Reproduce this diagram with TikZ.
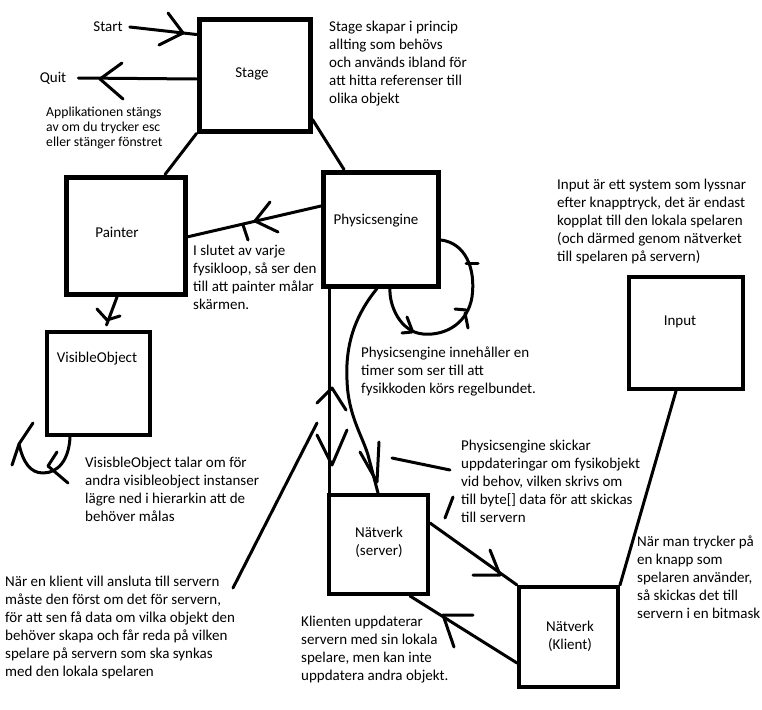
\documentclass[tikz,border=0pt]{standalone}
\usepackage{fontspec}
\setmainfont{Carlito}
\usetikzlibrary{calc}
\begin{document}
\begin{tikzpicture}[x=1pt,y=-1pt,
  box/.style={draw, rectangle, line width=4pt, inner sep=0pt},
  thickbox/.style={box, line width=5pt},
  con/.style={line width=3pt, line cap=round, line join=round},
  lbl/.style={font=\fontsize{15}{18}\selectfont, inner sep=0pt},
  txt/.style={font=\fontsize{15}{18}\selectfont, align=left, anchor=base west, inner sep=0pt},
  smalltxt/.style={font=\fontsize{13.7}{15}\selectfont, align=left, anchor=base west, inner sep=0pt}]
\useasboundingbox (0,0) rectangle (762,709);

% boxes
\node[thickbox, minimum width=111pt, minimum height=111pt] (stage) at (254.5,75.5) {};
\node[thickbox, minimum width=119pt, minimum height=117.5pt] (painter) at (126,235.75) {};
\node[thickbox, minimum width=115pt, minimum height=114pt] (phys) at (381,229) {};
\node[box, minimum width=103pt, minimum height=103pt] (vis) at (98.5,383.5) {};
\node[box, minimum width=99pt, minimum height=99pt] (netS) at (378.5,544.5) {};
\node[box, minimum width=99pt, minimum height=100pt] (netC) at (568.5,637) {};
\node[box, minimum width=114pt, minimum height=112pt] (input) at (686,333) {};

% box labels
\node[lbl] (stageL) at (252,74) {Stage};
\node[lbl] (painterL) at (117,232) {Painter};
\node[lbl] (physL) at (376,221) {Physicsengine};
\node[lbl] (visL) at (97,359) {VisibleObject};
\node[lbl] (inputL) at (680,322) {Input};
\node[lbl, align=center] (netSL) at (379,542.5) {Nätverk\\(server)};
\node[lbl, align=center] (netCL) at (570,636) {Nätverk\\(Klient)};
\node[lbl] (start) at (108,27) {Start};
\node[lbl] (quit) at (53,78) {Quit};

% text blocks (anchor = baseline of last line)
\node[smalltxt] (appT) at (46,146.5) {Applikationen stängs\\av om du trycker esc\\eller stänger fönstret};
\node[txt] (stageT) at (329,103.5) {Stage skapar i princip\\allting som behövs\\och används ibland för\\att hitta referenser till\\olika objekt};
\node[txt] (paintT) at (193,309.5) {I slutet av varje\\fysikloop, så ser den\\till att painter målar\\skärmen.};
\node[txt] (visT) at (85,521.5) {VisisbleObject talar om för\\andra visibleobject instanser\\lägre ned i hierarkin att de\\behöver målas};
\node[txt] (loopT) at (361,393.5) {Physicsengine innehåller en\\timer som ser till att\\fysikkoden körs regelbundet.};
\node[txt] (sendT) at (461,522.5) {Physicsengine skickar\\uppdateringar om fysikobjekt\\vid behov, vilken skrivs om\\till byte[] data för att skickas\\till servern};
\node[txt] (inputT) at (557,261.5) {Input är ett system som lyssnar\\efter knapptryck, det är endast\\kopplat till den lokala spelaren\\(och därmed genom nätverket\\till spelaren på servern)};
\node[txt] (keyT) at (637,618.5) {När man trycker på\\en knapp som\\spelaren använder,\\så skickas det till\\servern i en bitmask};
\node[txt] (connT) at (5,676.5) {När en klient vill ansluta till servern\\måste den först om det för servern,\\för att sen få data om vilka objekt den\\behöver skapa och får reda på vilken\\spelare på servern som ska synkas\\med den lokala spelaren};
\node[txt] (clientT) at (301,680.5) {Klienten uppdaterar\\servern med sin lokala\\spelare, men kan inte\\uppdatera andra objekt.};

% Start arrow
\draw[con] ([xshift=7pt]start.east) -- ([yshift=-17pt]stage.north west);
\draw[con] (168,13) -- (183,33) -- (159,45);
% Quit arrow
\draw[con] ([yshift=-3.5pt]stage.west) -- ([xshift=12pt]quit.east);
\draw[con] (122,63) -- (100,79) -- (123,99);
% Stage links
\draw[con] (stage.south west) -- ([xshift=39pt]painter.north);
\draw[con] ([yshift=14pt]stage.south east) -- ([xshift=-37pt]phys.north);
% Physics -> Painter
\draw[con] ([yshift=23pt]phys.west) -- ([yshift=-1pt]painter.east);
\draw[con] (270,202) -- (255,221) -- (278,232);
\draw[con] (243,225) -- (248,240);
% Painter -> VisibleObject
\draw[con] ([xshift=-9pt]painter.south) -- ([xshift=8pt,yshift=5pt]vis.north);
\draw[con] (97,309) -- (107,320) -- (120,316);
% VisibleObject self loop
\draw[con] ([xshift=-28.5pt]vis.south) .. controls (69,460) and (58,473) .. (43,473) .. controls (30,473) and (23,462) .. (19,444);
\draw[con] (33,423) -- (19,444) -- (12,465);
\draw[con] (57,452) -- (48,466) -- (68,483);
% Physics self loop
\draw[con] ([yshift=-11pt]phys.east) .. controls (465,243) and (476,268) .. (472,297) .. controls (468,322) and (447,336) .. (423,334) .. controls (400,332) and (389,305) .. ([xshift=9pt]phys.south);
\draw[con] (466,263) -- (478,263);
\draw[con] (455,309) -- (466,310);
\draw[con] (465,313) -- (468,328);
\draw[con] (407,317) -- (412,330);
\draw[con] (402,333) -- (412,332);
% Physics -> Server (curved)
\draw[con] ([xshift=-4pt]phys.south) .. controls (358,312) and (345,340) .. (347,380) .. controls (348,415) and (362,435) .. (368,455) -- ([xshift=-0.5pt]netS.north);
\draw[con] (360,452) -- (377,482) -- (379,442);
% Physics <-> Server (vertical)
\draw[con] ([xshift=8pt]phys.south west) -- ([xshift=2pt]netS.north west);
\draw[con] (317,403) -- (332,388) -- (346,410);
\draw[con] (317,435) -- (332,465) -- (347,430);
% callout lines
\coordinate (cConnA) at (233,588);
\coordinate (cConnB) at (317,423);
\draw[con] (cConnA) -- (cConnB);
\coordinate (cSendA) at (392,458);
\coordinate (cSendB) at (450,470);
\draw[con] (cSendA) -- (cSendB);
\coordinate (cSendC) at (453,497);
\coordinate (cSendD) at (445,518);
\draw[con] (cSendC) -- (cSendD);
% Server -> Client
\draw[con] ([yshift=21.5pt]netS.east) -- (netC.north west);
\draw[con] (490,550) -- (500,575) -- (473,575);
% Client -> Server
\draw[con] ([yshift=-26pt]netC.west) -- ([xshift=31.5pt]netS.south);
\draw[con] (473,615) -- (443,615) -- (454,647);
% Input -> Client
\draw[con] ([xshift=-10pt]input.south) -- (netC.north east);
\end{tikzpicture}
\end{document}
